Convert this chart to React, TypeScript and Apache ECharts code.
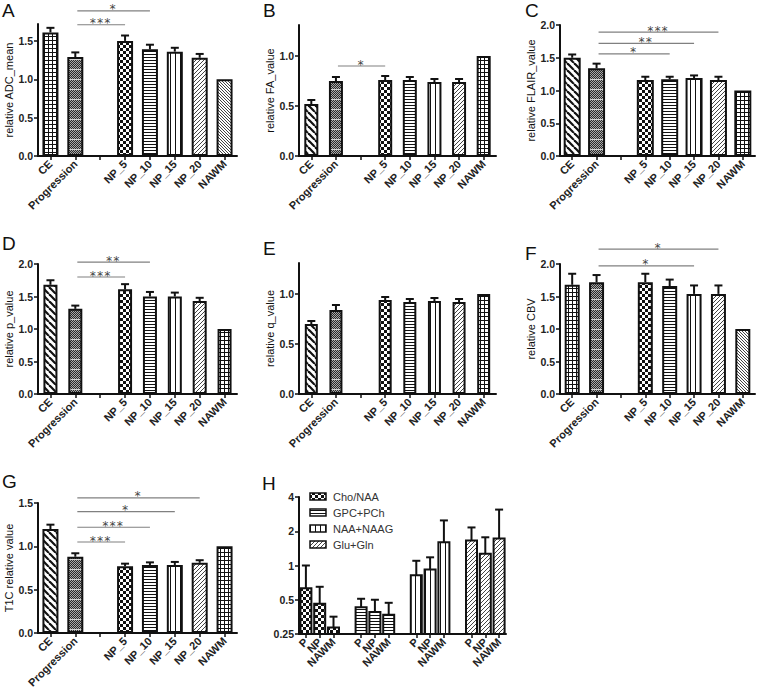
import React, { useEffect, useRef } from 'react';
import * as echarts from 'echarts';

const FONT = '"Liberation Sans", Arial, sans-serif';

// ---------- data ----------
const categories = ['CE', 'Progression', '', 'NP_5', 'NP_10', 'NP_15', 'NP_20', 'NAWM'];

const adcMean = [1.61, 1.29, null, 1.5, 1.39, 1.36, 1.28, 1.0];
const adcSem = [0.06, 0.06, null, 0.07, 0.06, 0.05, 0.05, 0];
const faMean = [0.52, 0.75, null, 0.76, 0.76, 0.74, 0.74, 1.0];
const faSem = [0.04, 0.04, null, 0.04, 0.03, 0.03, 0.03, 0];
const flairMean = [1.5, 1.34, null, 1.16, 1.17, 1.19, 1.16, 1.0];
const flairSem = [0.05, 0.07, null, 0.05, 0.04, 0.04, 0.05, 0];
const pMean = [1.68, 1.31, null, 1.61, 1.5, 1.5, 1.43, 1.0];
const pSem = [0.07, 0.05, null, 0.08, 0.07, 0.06, 0.05, 0];
const qMean = [0.7, 0.84, null, 0.94, 0.92, 0.93, 0.92, 1.0];
const qSem = [0.03, 0.05, null, 0.03, 0.03, 0.03, 0.03, 0];
const cbvMean = [1.68, 1.72, null, 1.72, 1.66, 1.54, 1.54, 1.0];
const cbvSem = [0.17, 0.11, null, 0.13, 0.1, 0.13, 0.13, 0];
const t1cMean = [1.2, 0.88, null, 0.77, 0.785, 0.785, 0.81, 1.0];
const t1cSem = [0.05, 0.04, null, 0.03, 0.03, 0.035, 0.03, 0];

const ticks2 = [0, 0.5, 1, 1.5, 2];
const ticks15 = [0, 0.5, 1, 1.5];
const ticks1 = [0, 0.5, 1];

// significance comparisons (from Progression to target, at a level in data units)
const sigA = [
  { to: 'NP_10', level: 1.89, label: '*' },
  { to: 'NP_5', level: 1.71, label: '***' },
];
const sigB = [{ to: 'NP_5', level: 0.9, label: '*' }];
const sigC = [
  { to: 'NP_20', level: 1.89, label: '***' },
  { to: 'NP_15', level: 1.72, label: '**' },
  { to: 'NP_10', level: 1.56, label: '*' },
];
const sigD = [
  { to: 'NP_10', level: 2.03, label: '**' },
  { to: 'NP_5', level: 1.8, label: '***' },
];
const sigF = [
  { to: 'NP_20', level: 2.23, label: '*' },
  { to: 'NP_15', level: 1.97, label: '*' },
];
const sigG = [
  { to: 'NP_20', level: 1.56, label: '*' },
  { to: 'NP_15', level: 1.4, label: '*' },
  { to: 'NP_10', level: 1.22, label: '***' },
  { to: 'NP_5', level: 1.05, label: '***' },
];

// panel H (log2 scale)
const mrsCategories = ['P', 'NP', 'NAWM', '', 'P', 'NP', 'NAWM', '', 'P', 'NP', 'NAWM', '', 'P', 'NP', 'NAWM'];
const mrsMetabolites = ['Cho/NAA', 'GPC+PCh', 'NAA+NAAG', 'Glu+Gln'];
const choNaaMean = [0.63, 0.46, 0.285];
const choNaaSem = [0.37, 0.19, 0.07];
const gpcMean = [0.43, 0.39, 0.37];
const gpcSem = [0.08, 0.11, 0.1];
const naaMean = [0.82, 0.92, 1.6];
const naaSem = [0.28, 0.26, 0.89];
const gluMean = [1.66, 1.27, 1.73];
const gluSem = [0.5, 0.5, 1.37];
const hMin = 0.25;
const hMax = 4;

// ---------- patterns ----------
function makePattern(kind: string): any {
  const c = document.createElement('canvas');
  let w = 4, h = 4;
  if (kind === 'dense') { w = 2; h = 10; }
  if (kind === 'checker') { w = 6; h = 6; }
  if (kind === 'hlines') { w = 3; h = 3; }
  if (kind === 'vlines') { w = 5; h = 5; }
  if (kind === 'back') { w = 3; h = 3; }
  if (kind === 'backThick') { w = 7; h = 7; }
  c.width = w; c.height = h;
  const ctx = c.getContext('2d')!;
  ctx.fillStyle = '#fff';
  ctx.fillRect(0, 0, w, h);
  ctx.fillStyle = '#111';
  ctx.strokeStyle = '#111';
  if (kind === 'grid') {
    ctx.fillRect(0, 0, w, 1);
    ctx.fillRect(0, 0, 1, h);
  } else if (kind === 'dense') {
    for (let r = 0; r < h; r++) {
      for (let cc = 0; cc < w; cc++) {
        if (r === h - 1) ctx.fillStyle = '#d4d4d4';
        else ctx.fillStyle = (r + cc) % 2 ? '#2a2a2a' : '#a8a8a8';
        ctx.fillRect(cc, r, 1, 1);
      }
    }
  } else if (kind === 'checker') {
    ctx.fillRect(0, 0, 3, 3);
    ctx.fillRect(3, 3, 3, 3);
  } else if (kind === 'hlines') {
    ctx.fillRect(0, 0, w, 1);
  } else if (kind === 'vlines') {
    ctx.fillRect(0, 0, 1, h);
  } else if (kind === 'fwd') {
    ctx.strokeStyle = '#444';
    ctx.lineWidth = 1;
    for (const k of [-1, 0, 1]) {
      ctx.beginPath(); ctx.moveTo(k * w, h); ctx.lineTo(k * w + w, 0); ctx.stroke();
    }
  } else if (kind === 'back' || kind === 'backThick') {
    ctx.strokeStyle = kind === 'back' ? '#444' : '#111';
    ctx.lineWidth = kind === 'back' ? 1 : 2.2;
    for (const k of [-1, 0, 1]) {
      ctx.beginPath(); ctx.moveTo(k * w, 0); ctx.lineTo(k * w + w, h); ctx.stroke();
    }
  }
  return { image: c.toDataURL(), repeat: 'repeat', imageWidth: w, imageHeight: h };
}

const patternSetA = ['grid', 'dense', 'none', 'checker', 'hlines', 'vlines', 'fwd', 'back'];
const patternSetB = ['backThick', 'dense', 'none', 'checker', 'hlines', 'vlines', 'fwd', 'grid'];
const mrsPatternKinds = ['checker', 'hlines', 'vlines', 'fwd'];

const panels = [
  { letter: 'A', letterPos: [2, 1], mean: adcMean, sem: adcSem, name: 'relative ADC_mean', max: 1.72, ticks: ticks15, pats: patternSetA, grid: { left: 38, top: 24, width: 199, height: 132 }, barWidth: 16, nameGap: 24, sig: sigA },
  { letter: 'B', letterPos: [263, 1], mean: faMean, sem: faSem, name: 'relative FA_value', max: 1.31, ticks: ticks1, pats: patternSetB, grid: { left: 299, top: 25, width: 197, height: 131 }, barWidth: 14, nameGap: 21, sig: sigB },
  { letter: 'C', letterPos: [525, 1], mean: flairMean, sem: flairSem, name: 'relative FLAIR_value', max: 2, ticks: ticks2, pats: patternSetB, grid: { left: 560, top: 25, width: 195, height: 131 }, barWidth: 17, nameGap: 21, sig: sigC },
  { letter: 'D', letterPos: [2, 234], mean: pMean, sem: pSem, name: 'relative p_value', max: 2, ticks: ticks2, pats: patternSetB, grid: { left: 38, top: 264, width: 199, height: 130 }, barWidth: 14, nameGap: 24, sig: sigD },
  { letter: 'E', letterPos: [263, 239], mean: qMean, sem: qSem, name: 'relative q_value', max: 1.31, ticks: ticks1, pats: patternSetB, grid: { left: 299, top: 263, width: 197, height: 131 }, barWidth: 13, nameGap: 21, sig: [] as any[] },
  { letter: 'F', letterPos: [525, 244], mean: cbvMean, sem: cbvSem, name: 'relative CBV', max: 2, ticks: ticks2, pats: patternSetA, grid: { left: 560, top: 264, width: 195, height: 130 }, barWidth: 15, nameGap: 21, sig: sigF },
  { letter: 'G', letterPos: [2, 472], mean: t1cMean, sem: t1cSem, name: 'T1C relative value', max: 1.5, ticks: ticks15, pats: patternSetB, grid: { left: 38, top: 503, width: 199, height: 130 }, barWidth: 16, nameGap: 24, sig: sigG },
];

const hGrid = { left: 299, top: 497, width: 207, height: 137 };

const axisLineStyle = { color: '#111', width: 2 };

function buildOption(pat: Record<string, any>) {
  const grid: any[] = [];
  const xAxis: any[] = [];
  const yAxis: any[] = [];
  const series: any[] = [];

  panels.forEach((p, i) => {
    grid.push({ ...p.grid, containLabel: false, outerBoundsMode: 'none' });
    xAxis.push({
      type: 'category', gridIndex: i, data: categories, boundaryGap: true,
      axisLine: { show: true, onZero: false, lineStyle: axisLineStyle },
      axisTick: { show: true, alignWithLabel: true, interval: 0, length: 4, lineStyle: { color: '#111', width: 1.5 } },
      axisLabel: { interval: 0, rotate: 45, margin: 6, fontSize: 11, fontWeight: 'bold', color: '#222', fontFamily: FONT },
      splitLine: { show: false },
    });
    yAxis.push({
      type: 'value', gridIndex: i, min: 0, max: p.max, interval: 0.5,
      name: p.name, nameLocation: 'middle', nameGap: p.nameGap,
      nameTextStyle: { fontSize: 11, color: '#111', fontFamily: FONT },
      axisLine: { show: true, lineStyle: axisLineStyle },
      axisTick: { show: true, length: 4, customValues: p.ticks, lineStyle: { color: '#111', width: 1.5 } },
      axisLabel: {
        customValues: p.ticks, margin: 5, fontSize: 10.5, fontWeight: 'bold', color: '#222', fontFamily: FONT,
        formatter: (v: number) => (Math.abs(v * 2 - Math.round(v * 2)) < 1e-6 ? v.toFixed(1) : ''),
      },
      splitLine: { show: false },
    });
    series.push({
      type: 'bar', xAxisIndex: i, yAxisIndex: i, barWidth: p.barWidth, silent: true,
      itemStyle: { borderColor: '#111', borderWidth: 2 },
      data: p.mean.map((v, j) => (v == null ? '-' : { value: v, itemStyle: { color: pat[p.pats[j]] } })),
    });
    const errData: any[] = [];
    p.mean.forEach((v, j) => {
      const s = p.sem[j];
      if (v != null && s) errData.push([j, v, v + s]);
    });
    series.push({
      type: 'custom', xAxisIndex: i, yAxisIndex: i, silent: true, data: errData, z: 3,
      renderItem: (_params: any, api: any) => {
        const x = api.value(0), m = api.value(1), u = api.value(2);
        const p0 = api.coord([x, m]);
        const p1 = api.coord([x, u]);
        return {
          type: 'group', children: [
            { type: 'line', shape: { x1: p0[0], y1: p0[1], x2: p1[0], y2: p1[1] }, style: { stroke: '#111', lineWidth: 2 } },
            { type: 'line', shape: { x1: p1[0] - 4, y1: p1[1], x2: p1[0] + 4, y2: p1[1] }, style: { stroke: '#111', lineWidth: 2 } },
          ],
        };
      },
    });
  });

  // panel H
  const hi = panels.length;
  grid.push({ ...hGrid, containLabel: false, outerBoundsMode: 'none' });
  xAxis.push({
    type: 'category', gridIndex: hi, data: mrsCategories, boundaryGap: true,
    axisLine: { show: true, onZero: false, lineStyle: axisLineStyle },
    axisTick: { show: true, alignWithLabel: true, interval: (_i: number, v: string) => v !== '', length: 4, lineStyle: { color: '#111', width: 1.5 } },
    axisLabel: { interval: 0, rotate: 45, margin: 6, fontSize: 11, fontWeight: 'bold', color: '#222', fontFamily: FONT },
    splitLine: { show: false },
  });
  yAxis.push({
    type: 'log', logBase: 2, gridIndex: hi, min: hMin, max: hMax,
    axisLine: { show: true, onZero: false, lineStyle: axisLineStyle },
    axisTick: { show: true, length: 4, lineStyle: { color: '#111', width: 1.5 } },
    axisLabel: {
      margin: 5, fontSize: 10.5, fontWeight: 'bold', color: '#222', fontFamily: FONT,
      formatter: (v: number) => String(Number(v.toPrecision(6))),
    },
    splitLine: { show: false },
  });
  const mrsMeans = [choNaaMean, gpcMean, naaMean, gluMean];
  const mrsSems = [choNaaSem, gpcSem, naaSem, gluSem];
  mrsMetabolites.forEach((name, m) => {
    const fill = pat[mrsPatternKinds[m]];
    const data = mrsMeans[m].map((v, k) => [m * 4 + k, v, v + mrsSems[m][k]]);
    series.push({
      type: 'custom', name, xAxisIndex: hi, yAxisIndex: hi, silent: true, data,
      renderItem: (_params: any, api: any) => {
        const x = api.value(0), v = api.value(1), u = api.value(2);
        const base = api.coord([x, hMin]);
        const top = api.coord([x, v]);
        const up = api.coord([x, u]);
        const w = 11;
        return {
          type: 'group', children: [
            { type: 'rect', shape: { x: top[0] - w / 2, y: top[1], width: w, height: base[1] - top[1] }, style: { fill, stroke: '#111', lineWidth: 2 } },
            { type: 'line', shape: { x1: top[0], y1: top[1], x2: up[0], y2: up[1] }, style: { stroke: '#111', lineWidth: 2 } },
            { type: 'line', shape: { x1: up[0] - 4, y1: up[1], x2: up[0] + 4, y2: up[1] }, style: { stroke: '#111', lineWidth: 2 } },
          ],
        };
      },
    });
  });

  return { animation: false, backgroundColor: '#fff', grid, xAxis, yAxis, series };
}

function buildGraphics(chart: any, pat: Record<string, any>) {
  const els: any[] = [];
  panels.forEach((p, i) => {
    els.push({
      type: 'text', x: p.letterPos[0], y: p.letterPos[1], silent: true,
      style: { text: p.letter, fontSize: 19, fontFamily: FONT, fill: '#111', textVerticalAlign: 'top' },
    });
    const from = categories.indexOf('Progression');
    p.sig.forEach((s: any) => {
      const a = chart.convertToPixel({ gridIndex: i }, [from, s.level]);
      const b = chart.convertToPixel({ gridIndex: i }, [categories.indexOf(s.to), s.level]);
      els.push({ type: 'line', silent: true, shape: { x1: a[0] + 2, y1: a[1], x2: b[0], y2: b[1] }, style: { stroke: '#808080', lineWidth: 1.2 } });
      els.push({
        type: 'text', silent: true, x: (a[0] + b[0]) / 2, y: a[1] - 1.5,
        style: { text: s.label, fontSize: 12, lineHeight: 8, fontFamily: '"DejaVu Sans Mono", monospace', fill: '#444', textAlign: 'center', textVerticalAlign: 'middle' },
      });
    });
  });
  els.push({
    type: 'text', x: 262, y: 474, silent: true,
    style: { text: 'H', fontSize: 19, fontFamily: FONT, fill: '#111', textVerticalAlign: 'top' },
  });
  // legend for H
  mrsMetabolites.forEach((name, m) => {
    const y = 493 + m * 16;
    els.push({ type: 'rect', silent: true, shape: { x: 310, y, width: 16, height: 7 }, style: { fill: pat[mrsPatternKinds[m]], stroke: '#111', lineWidth: 1.5 } });
    els.push({ type: 'text', silent: true, x: 333, y: y + 3.5, style: { text: name, fontSize: 11, fontFamily: FONT, fill: '#333', textVerticalAlign: 'middle' } });
  });
  return els;
}

export default function App() {
  const ref = useRef<HTMLDivElement>(null);
  useEffect(() => {
    if (!ref.current) return;
    const kinds = ['grid', 'dense', 'checker', 'hlines', 'vlines', 'fwd', 'back', 'backThick'];
    const pat: Record<string, any> = {};
    kinds.forEach((k) => { pat[k] = makePattern(k); });
    const chart = echarts.init(ref.current, null, { renderer: 'svg' });
    chart.setOption(buildOption(pat) as any);
    chart.setOption({ graphic: buildGraphics(chart, pat) } as any);
    return () => chart.dispose();
  }, []);
  return <div ref={ref} style={{ position: 'absolute', left: 0, top: 0, width: 758, height: 689, background: '#fff' }} />;
}
